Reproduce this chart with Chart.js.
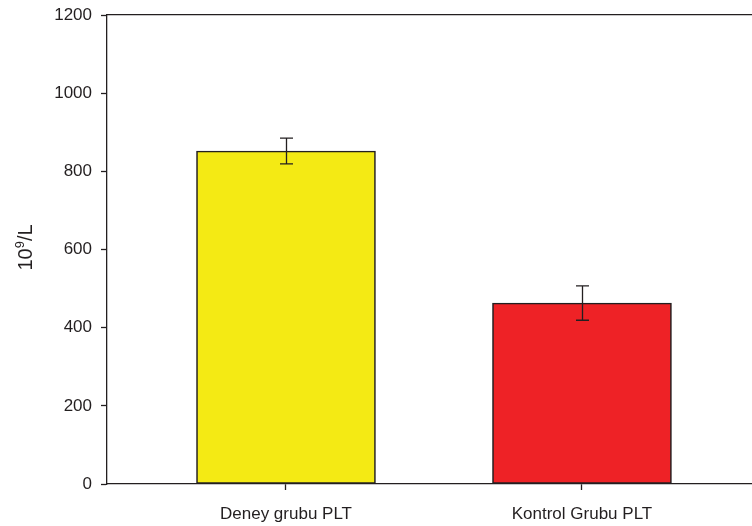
<!DOCTYPE html>
<html>
<head>
<meta charset="utf-8">
<style>
  html, body { margin: 0; padding: 0; background: #ffffff; overflow: hidden; }
  #wrap { position: relative; width: 800px; height: 526px; }
  canvas { display: block; }
</style>
<script src="https://cdn.jsdelivr.net/npm/chart.js@4.4.1/dist/chart.umd.min.js"></script>
</head>
<body>
<div id="wrap"><canvas id="c" width="800" height="526"></canvas></div>
<script>
// Platelet counts (10^9/L): group means with standard error
const categories = ['Deney grubu PLT', 'Kontrol Grubu PLT'];
const positions = [1, 2];
const means = [852, 463];
const errors = [33, 44];
const yTicks = [0, 200, 400, 600, 800, 1000, 1200];
const barColors = ['#F4EA14', '#EE2226'];

const INK = '#231F20';
const FONT = '"Liberation Sans", Arial, sans-serif';

// Error bars drawn from the data through the chart's scales
const errorBarPlugin = {
  id: 'errorBars',
  afterDatasetsDraw(chart) {
    const { ctx, scales } = chart;
    const xs = scales.x, ys = scales.y;
    ctx.save();
    ctx.strokeStyle = INK;
    ctx.lineWidth = 1.3;
    positions.forEach((p, i) => {
      const x = Math.round(xs.getPixelForValue(p)) + 0.5;
      const yHi = ys.getPixelForValue(means[i] + errors[i]);
      const yLo = ys.getPixelForValue(means[i] - errors[i]);
      const cap = 6.5;
      ctx.beginPath();
      ctx.moveTo(x, yHi); ctx.lineTo(x, yLo);
      ctx.moveTo(x - cap, yHi); ctx.lineTo(x + cap, yHi);
      ctx.moveTo(x - cap, yLo); ctx.lineTo(x + cap, yLo);
      ctx.stroke();
    });
    ctx.restore();
  }
};

// Rotated y-axis title with a superscript exponent
const yTitlePlugin = {
  id: 'yTitle',
  afterDraw(chart) {
    const { ctx, chartArea } = chart;
    const cy = (chartArea.top + chartArea.bottom) / 2 - 2;
    ctx.save();
    ctx.translate(32, cy);
    ctx.rotate(-Math.PI / 2);
    ctx.fillStyle = INK;
    ctx.textBaseline = 'alphabetic';
    const big = '20px ' + FONT, small = '13px ' + FONT;
    ctx.font = big; const w1 = ctx.measureText('10').width;
    ctx.font = small; const w2 = ctx.measureText('9').width;
    ctx.font = big; const w3 = ctx.measureText('/L').width;
    let x = -(w1 + w2 + w3) / 2;
    ctx.font = big; ctx.textAlign = 'left';
    ctx.fillText('10', x, 0); x += w1;
    ctx.font = small; ctx.fillText('9', x, -8); x += w2;
    ctx.font = big; ctx.fillText('/L', x, 0);
    ctx.restore();
  }
};

new Chart(document.getElementById('c'), {
  type: 'bar',
  data: {
    datasets: [{
      data: positions.map((p, i) => ({ x: p, y: means[i] })),
      backgroundColor: barColors,
      borderColor: INK,
      borderWidth: 1.6,
      borderSkipped: false,
      barThickness: 179
    }]
  },
  options: {
    responsive: false,
    animation: false,
    devicePixelRatio: 1,
    layout: { padding: { top: 15, left: 0, right: 0, bottom: 0 } },
    plugins: { legend: { display: false }, tooltip: { enabled: false } },
    scales: {
      x: {
        type: 'linear',
        offset: false,
        min: 0.3953,
        max: 2.7366,
        afterBuildTicks(scale) { scale.ticks = positions.map(v => ({ value: v })); },
        afterFit(scale) { scale.height = 42; scale.paddingLeft = 0; scale.paddingRight = 0; },
        ticks: {
          callback: (v) => categories[positions.indexOf(v)] || '',
          color: INK,
          font: { family: FONT, size: 17 },
          padding: 14,
          maxRotation: 0,
          autoSkip: false
        },
        grid: { display: true, offset: false, drawOnChartArea: false, drawTicks: true, tickLength: 6, tickColor: INK, tickWidth: 1.3 },
        border: { display: true, color: INK, width: 1.3 }
      },
      xTop: {
        type: 'linear',
        position: 'top',
        offset: false,
        min: 0, max: 1,
        ticks: { display: false },
        grid: { display: false, drawTicks: false },
        border: { display: true, color: INK, width: 1.3 },
        afterFit(scale) { scale.height = 0; scale.paddingLeft = 0; scale.paddingRight = 0; }
      },
      y: {
        type: 'linear',
        min: 0,
        max: 1200,
        afterBuildTicks(scale) { scale.ticks = yTicks.map(v => ({ value: v })); },
        afterFit(scale) { scale.width = 107; scale.paddingTop = 0; scale.paddingBottom = 0; },
        ticks: {
          callback: (v) => String(v),
          color: INK,
          font: { family: FONT, size: 17 },
          padding: 9
        },
        grid: { display: true, drawOnChartArea: false, drawTicks: true, tickLength: 6, tickColor: INK, tickWidth: 1.3 },
        border: { display: true, color: INK, width: 1.3 }
      }
    }
  },
  plugins: [errorBarPlugin, yTitlePlugin]
});
</script>
</body>
</html>
